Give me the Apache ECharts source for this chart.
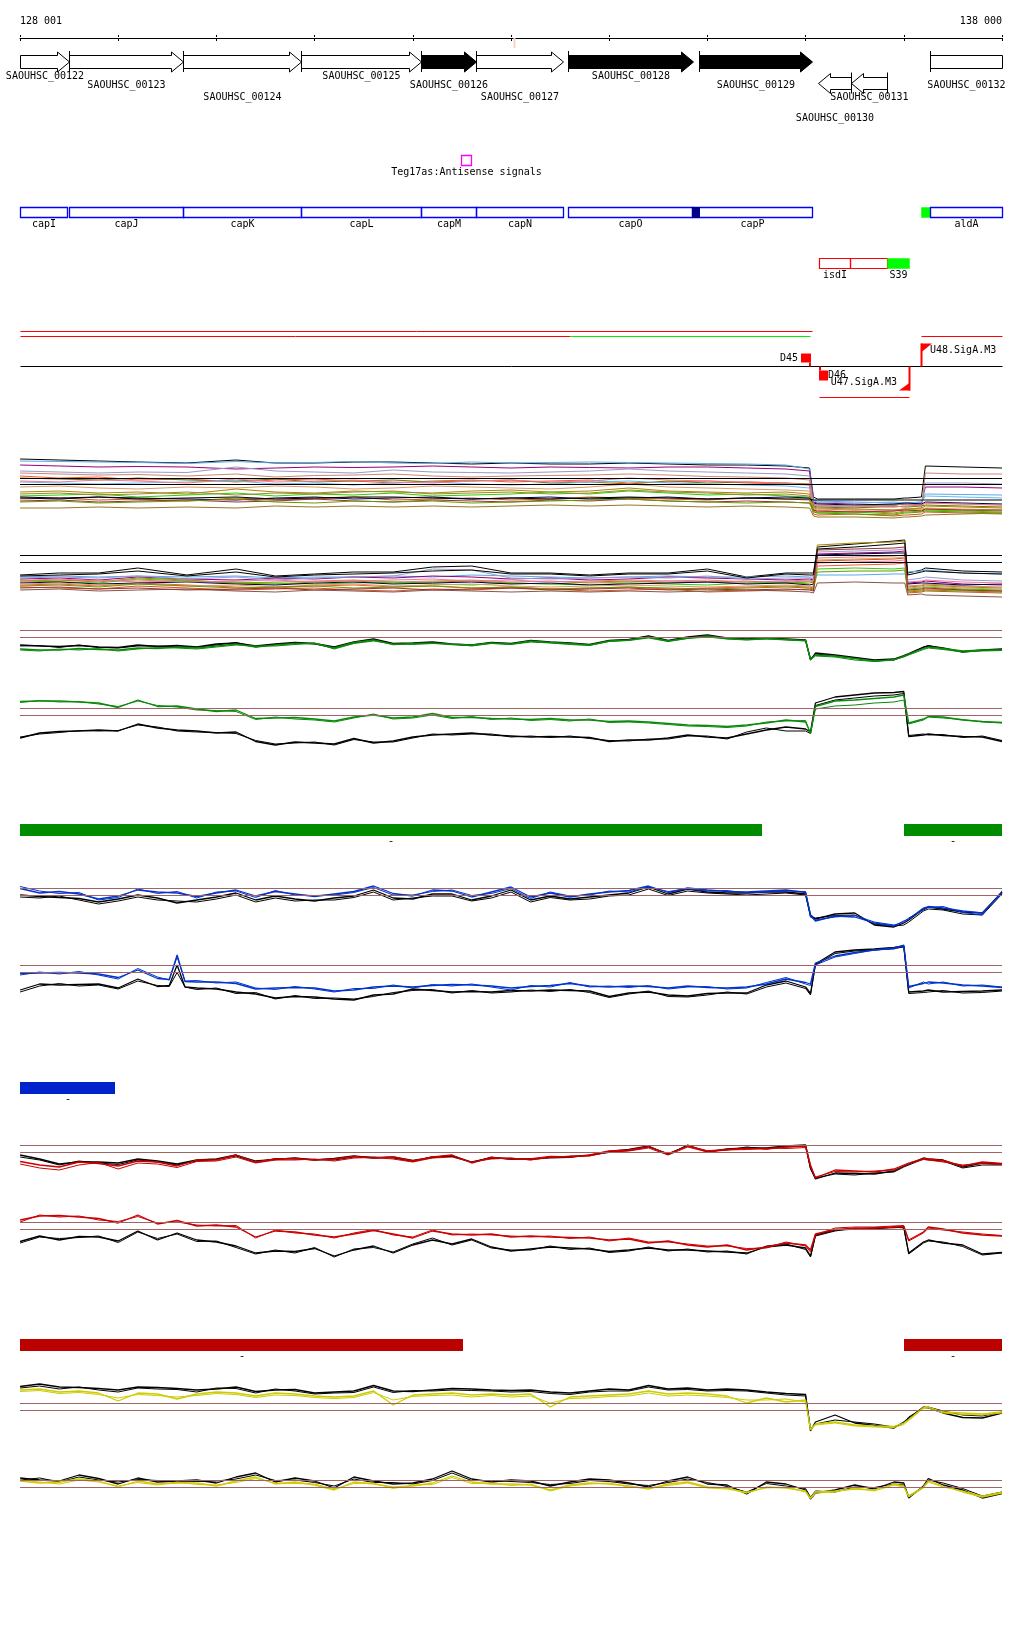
<!DOCTYPE html>
<html><head><meta charset="utf-8">
<script src="https://cdn.jsdelivr.net/npm/echarts/dist/echarts.min.js"></script>
<style>html,body{margin:0;padding:0;background:#fff}#c{width:1024px;height:1640px}</style>
</head><body><div id="c"></div><script>
// ---------------- DATA ----------------
const WIN0 = 128001, WIN1 = 138000;
const rulerLabels = ['128 001', '138 000'];
const siteMarks = [133027];

const geneName   = ['SAOUHSC_00122','SAOUHSC_00123','SAOUHSC_00124','SAOUHSC_00125','SAOUHSC_00126','SAOUHSC_00127','SAOUHSC_00128','SAOUHSC_00129','SAOUHSC_00130','SAOUHSC_00131','SAOUHSC_00132'];
const geneStart  = [127600,128495,129656,130857,132079,132639,133576,134910,136122,136458,137262];
const geneEnd    = [128495,129656,130857,132079,132639,133525,134849,136061,136458,136834,138600];
const geneStrand = ['+','+','+','+','+','+','+','+','-','-','+'];
const geneClass  = ['other','other','other','other','hit','other','hit','hit','other','other','other'];
const geneLane   = [0,1,2,0,1,2,0,1,3,2,1];

const featName  = ['capI','capJ','capK','capL','capM','capN','capO','capP','','','aldA','isdI','','S39','Teg17as:Antisense signals'];
const featStart = [127600,128495,129656,130857,132079,132639,133576,134839,134839,137180,137262,136132,136448,136834,132487];
const featEnd   = [128481,129656,130857,132079,132639,133525,134839,136061,134910,137262,138600,136448,136834,137048,132589];
const featKind  = ['cds','cds','cds','cds','cds','cds','cds','cds','site','srna','cds','reg','reg','srna','asrna'];
const featTrack = [0,0,0,0,0,0,0,0,0,0,0,1,1,1,2];

const segStart = [128001,128001,133597,128001,137180,136132];
const segEnd   = [136061,133597,136040,138000,138000,137048];
const segRow   = [0,1,1,2,1,3];
const segClass = ['tx','tx','cov','base','tx','tx'];

const markName = ['D45','D46','U47.SigA.M3','U48.SigA.M3'];
const markPos  = [136055,136132,137048,137180];
const markType = ['D+','D-','U-','U+'];

const barStart = [128001,137007,128001,128001,137007];
const barEnd   = [135552,138000,128963,132507,138000];
const barGroup = [0,0,1,2,2];
const barStrand = ['-','-','-','-','-'];

const posD = [128001,128200,128400,128600,128800,129000,129200,129400,129600,129800,
130000,130200,130400,130600,130800,131000,131200,131400,131600,131800,
132000,132200,132400,132600,132800,133000,133200,133400,133600,133800,
134000,134200,134400,134600,134800,135000,135200,135400,135600,135800,
136000,136050,136100,136300,136500,136700,136900,137000,137050,137200,137250,137400,137600,137800,138000];
const posB2 = [128001,128200,128400,128600,128800,129000,129200,129400,129520,129600,129680,129800,
130000,130200,130400,130600,130800,131000,131200,131400,131600,131800,
132000,132200,132400,132600,132800,133000,133200,133400,133600,133800,
134000,134200,134400,134600,134800,135000,135200,135400,135600,135800,
136000,136050,136100,136300,136500,136700,136900,137000,137050,137200,137250,137400,137600,137800,138000];

const g1Black = [6.0,5.8,5.7,5.9,5.6,5.5,6.0,5.7,5.9,5.6,6.2,6.4,5.8,6.2,6.5,6.3,5.6,6.6,7.2,6.3,6.4,6.6,6.2,6.0,6.5,6.3,6.9,6.6,6.4,6.1,6.9,7.1,7.8,6.9,7.6,8.0,7.4,7.2,7.4,7.2,7.0,3.0,4.4,4.0,3.5,3.0,3.2,3.9,4.3,5.6,5.8,5.4,4.6,5.0,5.2];
const g1Black2 = [5.8,5.9,5.5,6.0,5.5,5.4,5.8,5.8,5.7,5.5,6.0,6.5,5.6,6.1,6.4,6.2,5.4,6.4,7.0,6.2,6.3,6.5,6.1,5.9,6.4,6.2,6.7,6.5,6.3,6.0,6.8,7.0,7.6,6.8,7.5,7.9,7.3,7.1,7.3,7.1,6.9,3.2,4.2,3.8,3.4,2.8,3.0,3.7,4.1,5.5,5.9,5.3,4.7,4.9,5.1];
const g1Green = [5.2,5.0,5.0,5.3,5.1,5.0,5.4,5.3,5.6,5.4,5.8,6.2,5.6,6.0,6.3,6.3,5.4,6.5,7.0,6.1,6.3,6.4,6.1,6.0,6.4,6.2,6.8,6.5,6.3,6.0,6.8,7.0,7.6,6.8,7.4,7.8,7.3,7.1,7.3,7.1,6.9,3.2,4.0,3.8,3.3,2.8,3.0,3.8,4.2,5.3,5.6,5.3,4.8,5.0,5.0];
const g1Green2 = [5.0,4.8,5.2,5.0,5.3,4.8,5.2,5.5,5.4,5.2,5.6,6.0,5.8,5.8,6.1,6.4,5.2,6.3,6.8,6.2,6.1,6.3,6.2,5.8,6.3,6.1,6.6,6.4,6.1,5.9,6.7,6.9,7.4,6.7,7.3,7.6,7.2,7.0,7.2,7.0,6.8,3.0,3.8,3.6,3.0,2.7,3.1,3.6,4.0,5.1,5.4,5.1,4.6,4.8,4.9];

const g2Black = [2.4,3.4,3.7,3.8,4.0,3.8,5.2,4.4,4.0,3.8,3.4,3.6,1.7,1.0,1.6,1.4,1.2,2.3,1.4,1.8,2.6,3.0,3.2,3.4,3.0,2.8,2.6,2.7,2.6,2.5,1.7,2.0,2.0,2.4,3.0,2.6,2.4,3.2,4.0,4.6,4.2,3.6,9.4,10.6,11.0,11.4,11.5,11.7,2.7,3.0,3.2,2.9,2.7,2.6,1.7];
const g2Black2 = [2.6,3.2,3.5,3.9,3.8,3.9,5.0,4.6,3.8,3.6,3.5,3.3,1.9,1.2,1.4,1.6,1.0,2.1,1.6,1.6,2.4,3.2,3.0,3.2,3.2,2.6,2.8,2.5,2.8,2.3,1.9,1.8,2.2,2.2,2.8,2.8,2.2,3.6,4.4,3.8,3.8,3.3,8.9,10.0,10.4,10.8,11.0,11.3,2.9,3.2,3.0,3.1,2.5,2.8,1.9];
const g2Green = [9.7,9.8,9.8,9.6,9.4,8.5,10.0,8.7,8.8,8.2,7.7,8.0,6.3,6.4,6.5,6.2,5.8,6.6,7.0,6.4,6.6,7.3,6.5,6.5,6.3,6.2,6.1,6.3,6.0,6.0,5.7,5.8,5.6,5.3,5.0,4.9,4.7,5.0,5.4,6.0,5.6,3.4,8.7,9.8,10.0,10.3,10.6,11.0,5.4,6.2,6.7,6.6,6.0,5.7,5.5];
const g2Green2 = [9.5,9.9,9.6,9.7,9.2,8.7,9.8,8.9,8.6,8.0,7.9,7.7,6.1,6.6,6.2,6.0,5.6,6.4,7.2,6.2,6.4,7.0,6.3,6.7,6.1,6.4,5.9,6.1,5.8,6.2,5.5,5.6,5.4,5.1,4.8,4.7,4.5,4.8,5.6,5.8,5.9,3.2,8.2,8.8,9.0,9.4,9.6,10.0,5.2,6.0,6.6,6.4,6.1,5.6,5.4];

const b1Black = [8.0,7.7,7.5,7.3,6.6,7.2,8.0,7.4,6.4,7.0,7.6,8.4,7.0,7.8,7.2,6.8,7.4,7.8,9.0,7.4,7.2,8.2,8.2,7.0,7.8,9.0,7.0,7.8,7.2,7.6,8.0,8.4,9.6,8.2,9.2,8.6,8.4,8.4,8.6,8.6,8.2,4.0,3.2,4.2,4.4,2.0,1.6,2.4,3.0,5.2,5.6,5.2,4.6,4.4,8.6];
const b1Black2 = [7.6,7.4,7.8,7.0,6.2,6.8,7.6,7.0,6.8,6.6,7.2,8.0,6.6,7.4,6.8,7.0,7.0,7.5,8.6,7.0,7.4,7.8,7.8,6.8,7.4,8.6,6.6,7.5,7.0,7.2,7.8,8.0,9.2,7.9,8.8,8.4,8.2,8.0,8.2,8.4,8.0,3.6,3.4,3.9,4.0,2.2,1.8,2.0,2.6,4.8,5.2,5.0,4.2,4.0,8.2];
const b1Blue = [9.3,8.4,8.7,8.2,7.2,7.8,9.0,8.6,8.4,7.7,8.4,9.0,7.8,8.7,8.2,7.7,8.2,8.7,9.8,8.3,7.8,9.0,8.8,7.6,8.6,9.6,7.6,8.4,7.6,8.2,8.6,8.9,9.8,8.5,9.4,9.0,8.7,8.6,8.8,9.0,8.5,4.0,2.8,3.8,3.6,2.4,1.8,2.8,3.2,5.4,5.7,5.4,4.8,4.4,8.4];
const b1Blue2 = [9.7,8.8,8.3,8.5,7.0,7.5,9.2,8.3,8.7,7.4,8.6,8.8,7.5,8.9,8.0,7.9,8.0,8.5,9.5,8.0,8.0,8.7,9.0,7.9,8.3,9.3,7.3,8.6,7.8,8.0,8.8,8.6,9.6,8.7,9.2,8.8,8.9,8.4,8.6,8.8,8.7,3.6,3.0,3.6,3.9,2.6,2.0,2.5,3.4,5.0,5.5,5.7,4.5,4.0,8.8];

const b2Black = [3.0,4.2,4.0,4.1,4.2,3.4,5.2,3.7,3.9,8.0,3.6,3.4,3.2,2.6,2.2,1.4,1.7,1.6,1.2,1.0,2.0,2.2,3.2,2.9,2.6,2.7,2.6,2.9,2.8,3.0,2.9,2.8,1.7,2.4,2.6,2.0,1.8,2.3,2.4,2.4,4.0,4.8,3.6,2.3,8.2,10.6,11.0,11.2,11.5,11.8,2.6,2.8,3.0,2.6,2.7,2.8,3.0];
const b2Black2 = [2.6,3.8,4.3,3.8,4.0,3.2,4.8,3.9,3.7,6.5,3.6,3.1,3.4,2.3,2.5,1.2,1.9,1.3,1.4,1.2,1.7,2.5,2.9,3.1,2.4,2.9,2.4,2.6,3.0,2.7,3.1,2.5,1.5,2.2,2.8,1.7,1.6,2.0,2.6,2.2,3.6,4.4,3.3,2.0,8.0,10.3,10.8,11.0,11.3,11.6,2.3,2.5,2.6,2.9,2.4,2.5,2.8];
const b2Blue = [6.3,6.4,6.5,6.4,6.2,5.5,7.0,5.3,5.1,10.0,4.7,4.6,4.6,4.3,3.2,3.4,3.5,3.4,2.8,3.0,3.6,3.8,3.6,3.9,4.1,4.0,3.8,3.4,3.7,3.9,4.3,3.8,3.6,3.8,3.7,3.4,3.8,3.5,3.4,3.6,4.2,5.2,4.5,4.2,8.4,9.8,10.5,11.0,11.4,12.0,3.7,4.3,4.6,4.4,4.0,3.8,3.5];
const b2Blue2 = [6.0,6.6,6.2,6.7,6.0,5.2,7.3,5.6,5.0,9.6,4.8,4.9,4.4,4.6,3.4,3.1,3.7,3.2,2.6,3.3,3.3,4.0,3.4,4.1,3.8,4.2,3.6,3.0,3.9,3.6,4.5,3.6,3.8,3.5,3.9,3.2,3.6,3.7,3.2,3.4,4.5,5.5,4.2,3.9,8.0,9.6,10.3,11.0,11.2,11.8,3.4,4.6,4.2,4.6,3.8,4.0,3.6];

const r1Black = [7.0,6.2,5.2,5.6,5.6,5.4,6.2,5.8,5.2,6.0,6.2,7.0,5.8,6.1,6.4,6.0,6.3,6.8,6.4,6.6,5.9,6.5,6.9,5.6,6.4,6.3,6.1,6.6,6.7,6.9,7.7,8.1,8.8,7.1,9.0,7.6,8.2,8.4,8.4,8.8,9.0,4.4,2.2,3.4,3.3,3.2,3.8,4.8,5.2,6.4,6.2,6.0,4.6,5.4,5.2];
const r1Black2 = [6.6,6.0,5.0,5.8,5.4,5.1,6.0,5.6,5.0,5.8,6.1,6.8,5.5,6.3,6.2,6.1,6.0,6.6,6.6,6.4,5.7,6.7,6.7,5.5,6.6,6.1,6.3,6.4,6.5,7.0,7.5,7.9,8.6,7.3,8.8,7.8,8.0,8.6,8.2,8.6,8.8,4.2,2.4,3.2,3.0,3.4,3.6,4.6,5.0,6.2,6.0,5.8,4.4,5.0,5.0];
const r1Red = [5.7,5.0,4.6,5.6,5.3,4.8,5.8,5.6,4.8,6.0,6.0,7.0,5.6,6.2,6.3,6.0,6.2,6.7,6.4,6.6,5.8,6.6,7.0,5.4,6.5,6.2,6.2,6.7,6.6,7.0,7.8,8.0,8.7,7.2,8.8,7.8,8.1,8.3,8.2,8.6,8.8,5.0,2.4,4.0,3.8,3.6,4.2,5.0,5.4,6.3,6.2,5.9,4.8,5.6,5.3];
const r1Red2 = [5.2,4.4,4.0,5.0,5.5,4.2,5.4,5.2,4.5,5.7,5.8,6.6,5.4,6.0,6.0,6.2,5.8,6.4,6.5,6.2,5.6,6.4,6.6,5.6,6.2,6.4,6.0,6.5,6.8,6.8,7.6,7.8,8.4,7.0,8.6,7.6,8.0,8.1,8.4,8.3,8.5,4.6,2.6,3.7,3.6,3.8,4.0,4.8,5.2,6.1,6.0,5.6,5.0,5.3,5.1];

const r2Black = [4.7,5.8,5.0,5.7,5.6,4.8,6.8,5.0,6.4,5.0,4.6,3.8,2.4,2.8,2.7,3.3,1.8,3.0,3.8,2.4,4.0,5.0,4.2,5.2,3.6,2.8,3.2,3.6,3.4,3.2,2.7,3.0,3.4,3.0,3.0,2.8,2.6,2.4,3.6,4.0,3.4,1.8,6.0,7.0,7.2,7.4,7.5,7.6,2.4,4.6,5.0,4.4,4.0,2.2,2.5];
const r2Black2 = [4.4,5.6,5.3,5.5,5.8,4.5,6.6,5.3,6.2,4.7,4.8,3.5,2.2,3.0,2.4,3.5,1.6,3.2,3.5,2.6,4.2,5.4,4.0,5.0,3.4,3.0,3.0,3.8,3.1,3.4,2.5,2.8,3.6,2.8,3.2,2.6,2.8,2.2,3.8,4.2,3.1,1.6,5.8,6.8,7.4,7.2,7.6,7.4,2.2,4.4,4.8,4.6,3.7,2.0,2.4];
const r2Red = [9.0,9.8,9.9,9.6,9.3,8.4,10.0,8.2,8.9,7.8,8.0,7.6,5.6,6.8,6.6,6.0,5.6,6.2,6.9,6.2,5.4,6.8,6.2,6.0,6.2,5.6,5.8,5.6,5.5,5.4,5.0,5.2,4.4,4.8,4.0,3.6,4.0,3.0,3.6,4.4,4.0,3.0,6.2,7.1,7.3,7.4,7.6,7.7,5.0,6.6,7.6,7.2,6.4,6.0,5.8];
const r2Red2 = [8.6,10.0,9.6,9.8,9.0,8.7,9.7,8.4,8.6,8.0,7.8,7.9,5.4,7.0,6.4,6.2,5.4,6.4,7.1,6.0,5.6,7.0,6.0,6.2,6.0,5.8,5.6,5.8,5.3,5.6,4.8,5.4,4.6,4.6,4.2,3.8,3.8,3.3,3.4,4.6,3.8,2.6,6.0,7.4,7.6,7.6,7.8,7.9,4.8,6.4,7.4,7.0,6.6,6.2,5.9];

const y1Black = [10.7,11.2,10.6,10.5,10.3,10.0,10.6,10.5,10.3,10.0,10.2,10.6,9.7,10.0,10.1,9.4,9.6,9.8,10.9,9.8,9.7,10.0,10.3,10.2,10.0,9.9,10.0,9.6,9.4,9.8,10.2,10.0,10.9,10.2,10.4,10.0,10.2,10.0,9.6,9.3,9.1,1.8,3.6,5.0,3.4,2.9,2.4,3.6,4.3,6.6,6.4,5.4,4.5,4.4,5.4];
const y1Black2 = [10.4,10.8,10.2,10.6,10.0,9.6,10.4,10.2,10.1,9.6,10.4,10.3,9.4,10.2,9.8,9.2,9.4,9.5,10.6,9.5,9.9,9.8,10.0,9.9,9.8,9.6,9.7,9.3,9.1,9.6,9.8,9.8,10.6,10.0,10.1,9.8,9.9,9.8,9.4,9.0,8.8,2.2,3.2,4.0,3.6,3.2,2.6,3.4,4.6,6.4,6.6,5.8,5.0,4.8,5.6];
const y1Yellow = [10.0,10.2,9.6,9.8,9.4,7.8,9.4,9.2,8.2,9.2,9.6,9.4,8.8,9.4,9.2,8.8,8.6,8.8,9.8,7.0,9.0,9.2,9.4,9.0,9.2,9.0,9.2,6.6,8.6,8.8,9.0,9.2,9.8,9.2,9.4,9.2,8.8,7.4,8.4,7.6,8.0,2.0,3.2,3.6,3.0,2.8,2.7,3.4,4.1,6.5,6.6,5.6,5.4,5.2,5.6];
const y1Yellow2 = [9.7,9.9,9.3,9.5,9.1,8.4,9.1,8.9,8.6,8.9,9.3,9.1,8.5,9.0,8.9,8.5,8.3,8.5,9.5,8.0,8.7,8.9,9.0,8.6,8.9,8.6,8.8,7.4,8.3,8.4,8.7,8.8,9.4,8.8,9.0,8.8,8.5,8.0,8.0,8.2,7.6,2.3,3.0,3.4,2.8,2.6,2.5,3.1,3.9,6.3,6.4,5.4,5.1,5.0,5.4];

const y2Black = [7.4,7.0,6.8,8.0,7.3,6.2,7.4,6.6,6.8,7.0,6.4,7.6,8.4,6.6,7.4,6.8,5.4,7.6,6.8,6.2,6.4,7.2,8.8,7.2,6.6,7.0,6.8,5.8,6.6,7.2,7.0,6.4,5.6,6.8,7.6,6.2,6.0,4.2,6.6,6.2,5.0,3.2,4.4,5.0,6.0,5.2,6.6,6.4,3.4,5.8,7.3,6.0,5.0,3.4,4.3];
const y2Black2 = [7.0,7.4,6.6,7.6,7.0,6.6,7.1,6.9,6.6,6.7,6.8,7.2,8.0,6.9,7.0,6.5,5.8,7.2,6.5,6.5,6.2,6.9,8.4,6.9,6.9,6.7,6.5,6.1,6.3,6.9,6.7,6.2,5.9,6.5,7.2,6.5,5.7,4.6,6.3,5.8,5.3,3.6,4.8,4.6,5.6,5.5,6.2,6.0,3.8,5.5,7.0,6.4,5.3,3.8,4.6];
const y2Yellow = [6.8,6.4,6.6,7.2,6.8,5.6,6.8,6.2,6.4,6.4,5.8,6.8,7.6,6.2,6.6,6.0,5.0,6.6,6.2,5.6,5.8,6.4,7.8,6.6,6.2,6.2,6.0,5.0,6.0,6.4,6.2,5.8,5.2,6.2,6.6,5.6,5.4,4.4,5.6,5.4,4.8,3.4,4.6,4.8,5.2,5.0,6.2,5.8,3.8,5.6,6.8,5.8,4.6,3.6,4.4];
const y2Yellow2 = [7.0,6.6,6.2,7.0,6.6,5.8,6.5,6.0,6.6,6.1,6.0,6.5,7.3,6.4,6.3,6.2,5.2,6.3,6.4,5.3,6.0,6.1,7.5,6.3,6.4,5.9,6.2,4.8,5.8,6.2,6.4,5.6,5.4,5.9,6.4,5.4,5.2,4.6,5.4,5.6,4.6,3.2,4.4,4.6,5.4,4.8,6.0,5.6,3.6,5.4,6.6,5.6,4.8,3.8,4.6];

const posM = [128001,128400,128800,129200,129700,130200,130600,131000,131400,131800,132200,132600,133000,133400,133800,134200,134600,135000,135400,135800,136040,136080,136120,136500,136900,137010,137040,137180,137220,137600,138000];

const multiA = [
[13.2,13.0,12.8,12.6,12.4,13.0,12.4,12.4,12.6,12.6,12.4,12.2,12.4,12.2,12.2,12.4,12.2,12.0,12.0,11.8,11.4,5.6,5.2,5.2,5.2,5.4,5.4,5.6,11.8,11.6,11.4],
[12.8,12.7,12.6,12.5,12.3,12.7,12.4,12.5,12.7,12.4,12.3,12.6,12.4,12.5,12.6,12.5,12.4,12.3,12.2,12.0,11.2,5.0,4.8,4.6,4.4,4.4,4.4,4.6,6.2,6.1,6.0],
[12.0,11.8,11.6,11.7,11.6,11.2,11.4,11.6,11.5,11.6,11.8,11.6,11.4,11.6,11.5,11.4,11.6,11.6,11.4,11.2,10.8,4.6,4.4,4.2,4.0,4.2,4.2,4.4,7.6,7.6,7.4],
[10.8,10.6,10.4,10.6,10.5,11.6,10.8,10.6,10.4,11.0,10.6,10.5,10.4,10.6,10.8,11.2,10.8,10.6,10.4,10.2,9.8,4.0,3.8,3.6,3.6,3.8,3.8,4.0,8.4,8.4,8.2],
[10.4,10.2,10.0,10.1,9.8,10.2,9.6,9.9,10.0,10.2,9.8,9.6,9.8,9.9,10.0,10.2,10.0,9.7,9.6,9.4,9.0,3.4,3.2,3.0,3.0,3.2,3.2,3.4,10.4,10.2,10.2],
[9.8,9.4,9.6,9.0,9.2,8.6,9.0,9.2,8.8,8.4,8.8,9.0,8.6,8.8,9.0,8.4,8.6,8.8,8.4,8.2,8.0,3.0,2.6,2.8,2.4,2.8,2.8,3.0,3.2,3.0,2.8],
[9.4,9.2,9.0,9.4,9.0,8.8,9.2,8.6,8.8,9.0,8.6,8.8,9.0,8.4,8.6,8.2,8.8,8.4,8.6,8.4,8.2,3.8,3.6,3.4,3.8,3.6,3.6,3.8,4.0,3.8,3.6],
[8.6,8.4,8.2,8.4,8.6,8.8,8.2,8.4,8.0,8.4,8.6,8.2,8.0,8.2,8.6,8.8,8.4,8.2,8.0,7.8,7.4,4.8,4.6,4.4,4.6,4.4,4.4,4.6,5.8,5.6,5.4],
[7.6,7.8,7.4,7.2,7.6,7.4,7.8,7.6,7.2,7.4,7.8,7.6,7.4,7.2,7.6,8.2,7.6,7.4,7.2,7.0,6.8,3.2,3.0,2.6,2.8,3.0,3.0,3.2,3.4,3.2,3.0],
[6.6,6.8,6.4,6.6,6.2,7.2,6.6,6.4,6.8,6.6,6.4,6.8,7.0,6.6,6.8,7.4,6.8,6.6,6.4,6.6,6.2,3.6,3.4,3.2,3.0,3.2,3.2,3.4,3.8,3.6,3.4],
[5.8,6.0,6.2,5.6,6.0,6.4,5.8,6.2,6.0,6.4,5.8,6.0,6.2,6.6,6.2,6.8,6.4,6.0,6.2,5.8,5.6,2.8,2.4,2.6,2.2,2.6,2.6,2.8,3.0,2.8,2.6],
[6.2,6.4,6.0,6.2,6.6,6.0,6.4,6.2,6.6,6.8,6.2,6.4,6.6,6.2,6.4,7.0,6.6,6.4,6.0,6.2,5.8,4.2,4.0,3.8,4.0,4.2,4.2,4.0,4.4,4.2,4.0],
[5.2,5.4,5.0,5.2,4.8,5.4,5.0,5.2,5.6,5.0,5.2,5.4,5.0,5.2,5.6,5.4,5.2,5.0,5.4,5.2,5.0,2.2,2.0,2.2,1.8,2.0,2.0,2.2,2.6,2.4,2.2],
[5.4,5.2,5.6,5.4,5.2,5.0,5.4,5.6,5.2,5.4,5.6,5.2,5.4,5.6,5.2,5.4,5.6,5.2,5.4,5.6,5.4,4.4,4.2,4.0,4.2,4.4,4.4,4.2,4.6,4.4,4.2],
[4.8,5.0,4.6,4.8,5.0,4.6,4.8,5.2,4.8,4.6,5.0,4.8,4.6,5.0,4.8,5.2,4.8,4.6,4.8,4.6,4.4,3.0,2.8,2.6,2.8,3.0,3.0,2.8,3.2,3.0,3.0],
[3.4,3.4,3.6,3.4,3.6,3.4,3.8,3.6,3.8,3.6,3.8,3.6,3.8,4.0,3.8,4.0,3.8,3.6,3.8,3.6,3.4,1.8,1.6,1.6,1.4,1.6,1.6,1.8,2.0,2.2,2.4],
[8.8,8.6,9.0,8.8,8.4,9.2,8.6,8.8,9.0,8.6,8.4,8.8,9.0,8.6,8.8,9.4,9.0,8.8,8.6,8.4,8.0,4.2,4.0,3.8,3.6,3.8,3.8,4.0,4.4,4.2,4.0],
[4.6,4.8,4.4,4.6,4.8,5.2,4.6,4.4,4.8,4.6,4.8,4.4,4.6,4.8,5.0,5.2,4.8,4.6,4.4,4.6,4.4,2.6,2.4,2.2,2.0,2.4,2.4,2.6,2.8,2.6,2.4],
[5.6,5.4,5.6,5.2,5.4,5.6,5.2,5.4,5.6,5.6,5.4,5.2,5.4,5.2,5.4,5.6,5.4,5.2,5.4,5.2,5.2,5.0,5.0,5.0,5.0,5.0,5.0,5.0,5.0,5.0,5.0]
];
const multiB = [
[6.0,6.4,6.4,7.4,6.0,7.2,5.8,6.2,6.6,6.6,7.6,7.8,6.4,6.4,6.0,6.4,6.4,7.2,5.6,6.4,6.4,6.4,11.6,12.2,12.8,13.0,6.4,7.0,7.4,6.8,6.6],
[5.6,5.8,5.6,5.8,5.6,5.8,5.4,5.6,5.6,5.8,5.6,6.0,5.8,5.6,5.4,5.6,5.8,5.6,5.6,5.8,5.6,5.6,6.0,6.0,6.2,6.2,6.6,6.8,7.0,6.4,6.2],
[5.2,5.4,5.0,5.6,5.2,5.0,5.4,5.2,5.6,5.4,5.8,5.6,5.2,5.4,5.0,5.2,5.6,5.4,5.2,5.0,5.2,5.0,10.2,10.4,10.6,10.8,4.4,4.6,4.8,4.2,4.0],
[5.4,5.6,5.4,5.8,5.2,5.6,5.0,5.4,5.6,5.8,7.2,7.0,5.4,5.2,5.4,5.6,5.4,5.8,5.2,5.4,5.4,5.2,10.6,10.8,11.0,11.2,5.0,5.4,5.6,5.0,4.8],
[4.6,4.8,5.0,4.6,4.8,4.4,4.6,4.8,5.0,4.6,4.8,5.0,4.6,4.8,4.4,4.6,4.8,4.6,4.4,4.6,4.8,4.6,9.4,9.6,9.8,10.0,3.8,4.0,4.2,3.8,3.6],
[4.0,4.2,3.8,4.4,4.0,3.6,3.4,3.8,4.0,3.6,3.8,3.4,3.6,3.2,3.4,3.6,3.2,3.4,3.6,3.8,3.6,3.4,7.8,8.0,8.2,8.4,2.8,3.0,3.2,3.0,2.8],
[4.8,5.0,4.6,5.4,5.0,4.4,4.2,4.6,4.8,4.4,4.6,4.8,4.4,4.2,4.6,4.8,4.4,4.6,4.8,4.4,4.6,4.4,12.0,12.4,12.6,12.8,3.6,3.8,4.0,3.6,3.4],
[5.0,4.6,4.4,5.2,4.8,4.6,4.4,4.2,4.4,4.6,4.2,4.0,4.4,4.2,4.0,4.4,4.2,4.0,4.4,4.6,4.2,4.0,7.2,7.4,7.2,7.4,3.2,3.4,3.6,3.2,3.0],
[3.6,3.4,3.2,3.8,3.4,3.0,3.2,3.4,3.0,2.8,3.2,3.0,3.4,3.2,2.8,3.0,3.2,2.6,2.8,3.0,3.2,3.0,8.8,9.0,9.2,9.4,2.4,2.6,2.8,2.6,2.4],
[4.4,4.6,4.2,4.4,4.6,4.2,4.0,4.4,4.6,4.2,4.4,4.6,4.2,4.4,4.0,4.2,4.4,4.6,4.2,4.4,4.0,4.2,10.0,10.2,10.4,10.4,4.2,4.4,4.4,4.0,4.2],
[4.2,4.4,4.0,4.2,3.8,4.0,3.6,4.0,4.2,3.8,4.0,4.2,3.8,3.6,3.8,4.0,3.8,3.6,3.8,4.0,3.8,3.6,9.0,9.2,9.4,9.6,3.4,3.6,3.8,3.4,3.2],
[3.0,3.2,2.8,3.0,3.2,2.8,2.6,3.0,2.8,2.6,3.0,2.8,2.6,2.8,2.6,2.8,2.6,2.8,3.0,2.8,2.6,2.4,4.4,4.6,4.4,4.4,2.0,2.2,2.0,1.8,1.6],
[3.8,4.0,3.6,4.2,3.8,3.4,3.6,3.8,3.4,3.6,3.8,3.4,3.6,3.2,3.4,3.6,3.4,3.2,3.4,3.6,3.4,3.2,6.6,6.8,6.8,7.0,2.6,2.8,3.0,2.8,2.6],
[4.9,5.2,4.8,5.0,4.6,4.8,5.0,4.6,4.8,5.0,5.2,4.8,5.0,4.6,4.8,5.0,4.8,5.0,4.6,4.8,5.0,4.8,8.4,8.6,8.8,9.0,4.6,4.8,5.0,4.6,4.4],
[3.4,3.6,3.2,3.4,3.0,3.2,3.4,3.0,3.2,3.4,3.0,3.2,3.4,3.0,3.2,3.4,3.0,3.2,3.0,3.2,3.0,2.8,11.0,11.2,11.4,11.6,3.0,3.2,3.4,3.0,2.8],
[5.8,6.0,6.2,6.8,5.8,6.6,5.6,6.0,6.2,6.4,6.8,7.0,6.2,6.2,5.8,6.2,6.2,6.8,5.4,6.2,6.0,6.0,11.2,11.6,12.2,12.4,6.0,6.6,6.8,6.4,6.2]
];

// ---------------- STYLE / LAYOUT ----------------
const FONT = '10px "DejaVu Sans Mono", monospace';
const LEFT = 20, WIDTH = 982;
const GENE_LAYOUT = { fwd: {top: 55.5, bot: 68.5, head: 3.5}, rev: {top: 77.5, bot: 89.5, head: 4} };
const LABEL_Y = [76.5, 85.5, 97.5, 118.5];
const FEAT_ROW = [{y: 207.5, h: 10}, {y: 258.5, h: 10}, {y: 155.5, h: 10}];
const FEAT_STYLE = {
  cds: {fill: 'rgba(0,0,0,0)', stroke: '#0000ff', lw: 1.3},
  site: {fill: '#000088', stroke: '#000088', lw: 1},
  reg: {fill: 'rgba(0,0,0,0)', stroke: '#ff0000', lw: 1.2},
  srna: {fill: '#00ff00', stroke: '#00ff00', lw: 0.5},
  asrna: {fill: 'rgba(0,0,0,0)', stroke: '#ff00ff', lw: 1.3}
};
const SEG_ROW_Y = [331.5, 336.5, 366.5, 397.5];
const SEG_COLOR = {tx: '#ff0000', cov: '#00ee00', base: '#000000'};
const BAR_Y = [824, 1082, 1339];
const BAR_COLOR = ['#008c00', '#0022cc', '#bb0000'];
const BROWN = '#a06464';
const colorsA = ['#000000','#55aaee','#990077','#9999cc','#cc8877','#ff5533','#777700','#66bbee','#dd9966','#aa8800','#33cc00','#998833','#cc5522','#000044','#993333','#997722','#ee7799','#669900','#000000'];
const colorsB = ['#000000','#55aaee','#990077','#9999cc','#cc8877','#ff5533','#aa8800','#33cc00','#cc5522','#000044','#dd9966','#885544','#669900','#ee7799','#993333','#000000'];

const panels = [
  {top: 450, height: 75, max: 15, thr: [9.4, 8.2], thrColor: '#000', pos: posM, lines: multiA.map((v, k) => ({v, c: colorsA[k], w: 1}))},
  {top: 530, height: 75, max: 15, thr: [10, 8.6], thrColor: '#000', pos: posM, lines: multiB.map((v, k) => ({v, c: colorsB[k], w: 1}))},
  {top: 625, height: 50, max: 10, thr: [8.9, 7.5], thrColor: BROWN, pos: posD, lines: [{v: g1Black, c: '#000', w: 1.3}, {v: g1Black2, c: '#000', w: 1}, {v: g1Green, c: '#0a8a0a', w: 1.3}, {v: g1Green2, c: '#0a8a0a', w: 1}]},
  {top: 685, height: 65, max: 13, thr: [8.4, 7.0], thrColor: BROWN, pos: posD, lines: [{v: g2Black, c: '#000', w: 1.3}, {v: g2Black2, c: '#000', w: 1}, {v: g2Green, c: '#0a8a0a', w: 1.3}, {v: g2Green2, c: '#0a8a0a', w: 1}]},
  {top: 870, height: 65, max: 13, thr: [9.4, 8.0], thrColor: BROWN, pos: posD, lines: [{v: b1Black, c: '#000', w: 1.3}, {v: b1Black2, c: '#000', w: 1}, {v: b1Blue, c: '#0033cc', w: 1.3}, {v: b1Blue2, c: '#0033cc', w: 1}]},
  {top: 940, height: 65, max: 13, thr: [8.0, 6.6], thrColor: BROWN, pos: posB2, lines: [{v: b2Black, c: '#000', w: 1.3}, {v: b2Black2, c: '#000', w: 1}, {v: b2Blue, c: '#0033cc', w: 1.3}, {v: b2Blue2, c: '#0033cc', w: 1}]},
  {top: 1125, height: 65, max: 13, thr: [9.0, 7.6], thrColor: BROWN, pos: posD, lines: [{v: r1Black, c: '#000', w: 1.3}, {v: r1Black2, c: '#000', w: 1}, {v: r1Red, c: '#cc0000', w: 1.3}, {v: r1Red2, c: '#cc0000', w: 1}]},
  {top: 1200, height: 65, max: 13, thr: [8.6, 7.2], thrColor: BROWN, pos: posD, lines: [{v: r2Black, c: '#000', w: 1.3}, {v: r2Black2, c: '#000', w: 1}, {v: r2Red, c: '#cc0000', w: 1.3}, {v: r2Red2, c: '#cc0000', w: 1}]},
  {top: 1375, height: 65, max: 13, thr: [7.4, 6.0], thrColor: BROWN, pos: posD, lines: [{v: y1Black, c: '#000', w: 1.3}, {v: y1Black2, c: '#000', w: 1}, {v: y1Yellow, c: '#cccc00', w: 1.3}, {v: y1Yellow2, c: '#cccc00', w: 1}]},
  {top: 1450, height: 65, max: 13, thr: [7.0, 5.6], thrColor: BROWN, pos: posD, lines: [{v: y2Black, c: '#000', w: 1.3}, {v: y2Black2, c: '#000', w: 1}, {v: y2Yellow, c: '#cccc00', w: 1.3}, {v: y2Yellow2, c: '#cccc00', w: 1}]}
];

// ---------------- RENDER ----------------
function px(api, bp) { return Math.round(api.coord([bp, 0])[0]) + 0.5; }
function txt(text, x, y, align, font) {
  return {type: 'text', style: {text, x, y, font: font || FONT, fill: '#000', align: align || 'center', verticalAlign: 'middle', textAlign: align || 'center', textVerticalAlign: 'middle'}};
}

function renderGene(params, api) {
  const i = api.value(2);
  const fwd = geneStrand[i] === '+';
  const s = Math.max(geneStart[i], WIN0), e = Math.min(geneEnd[i], WIN1);
  const x0 = px(api, s), x1 = px(api, e);
  const L = GENE_LAYOUT[fwd ? 'fwd' : 'rev'];
  const top = L.top, bot = L.bot, mid = (top + bot) / 2, ht = top - L.head, hb = bot + L.head;
  const head = Math.min(12, x1 - x0);
  const headIn = fwd ? geneEnd[i] <= WIN1 : geneStart[i] >= WIN0;
  let pts;
  if (!headIn) pts = [[x0, top], [x1, top], [x1, bot], [x0, bot]];
  else if (fwd) pts = [[x0, top], [x1 - head, top], [x1 - head, ht], [x1, mid], [x1 - head, hb], [x1 - head, bot], [x0, bot]];
  else pts = [[x1, top], [x0 + head, top], [x0 + head, ht], [x0, mid], [x0 + head, hb], [x0 + head, bot], [x1, bot]];
  const dark = geneClass[i] === 'hit';
  const ch = [{type: 'polygon', shape: {points: pts}, style: {fill: dark ? '#000' : '#fff', stroke: '#000', lineWidth: 1}}];
  const five = fwd ? geneStart[i] : geneEnd[i];
  if (five > WIN0 && five < WIN1) {
    const xt = fwd ? x0 : x1;
    ch.push({type: 'line', shape: {x1: xt, y1: ht - 1, x2: xt, y2: hb}, style: {stroke: '#000', lineWidth: 1}});
  }
  ch.push(txt(geneName[i], (x0 + x1) / 2, LABEL_Y[geneLane[i]]));
  return {type: 'group', children: ch};
}

function renderFeat(params, api) {
  const i = api.value(2);
  const s = Math.max(featStart[i], WIN0), e = Math.min(featEnd[i], WIN1);
  const x0 = px(api, s), x1 = px(api, e);
  const row = FEAT_ROW[featTrack[i]];
  const st = FEAT_STYLE[featKind[i]];
  const ch = [{type: 'rect', shape: {x: x0, y: row.y, width: x1 - x0, height: row.h}, style: {fill: st.fill, stroke: st.stroke, lineWidth: st.lw}}];
  if (featName[i]) ch.push(txt(featName[i], (x0 + x1) / 2, row.y + 17));
  return {type: 'group', children: ch};
}

function renderSeg(params, api) {
  const i = api.value(2);
  const x0 = px(api, segStart[i]), x1 = px(api, segEnd[i]);
  const y = SEG_ROW_Y[segRow[i]];
  return {type: 'line', shape: {x1: x0, y1: y, x2: x1, y2: y}, style: {stroke: SEG_COLOR[segClass[i]], lineWidth: 1}};
}

function renderMark(params, api) {
  const i = api.value(2);
  const x = Math.round(api.coord([markPos[i], 0])[0]);
  const base = SEG_ROW_Y[2];
  const red = '#ff0000';
  const t = markType[i];
  const ch = [];
  if (t === 'D+') {
    ch.push({type: 'rect', shape: {x: x - 2, y: base - 4, width: 2, height: 4}, style: {fill: red}});
    ch.push({type: 'rect', shape: {x: x - 10, y: base - 13, width: 10, height: 9}, style: {fill: red}});
    ch.push(txt(markName[i], x - 13, base - 8, 'right'));
  } else if (t === 'D-') {
    ch.push({type: 'rect', shape: {x: x, y: base, width: 2, height: 4}, style: {fill: red}});
    ch.push({type: 'rect', shape: {x: x, y: base + 4, width: 9, height: 10}, style: {fill: red}});
    ch.push(txt(markName[i], x + 9, base + 9, 'left'));
  } else if (t === 'U-') {
    ch.push({type: 'line', shape: {x1: x + 0.5, y1: base, x2: x + 0.5, y2: base + 24}, style: {stroke: red, lineWidth: 2}});
    ch.push({type: 'polygon', shape: {points: [[x - 10, base + 24], [x + 1, base + 24], [x + 1, base + 16]]}, style: {fill: red}});
    ch.push(txt(markName[i], x - 12, base + 16, 'right'));
  } else {
    ch.push({type: 'line', shape: {x1: x + 0.5, y1: base, x2: x + 0.5, y2: base - 23}, style: {stroke: red, lineWidth: 2}});
    ch.push({type: 'polygon', shape: {points: [[x, base - 23], [x + 11, base - 23], [x, base - 14]]}, style: {fill: red}});
    ch.push(txt(markName[i], x + 9, base - 16, 'left'));
  }
  return {type: 'group', children: ch};
}

function renderBar(params, api) {
  const i = api.value(2);
  const x0 = Math.round(api.coord([barStart[i], 0])[0]), x1 = Math.round(api.coord([barEnd[i], 0])[0]);
  const y = BAR_Y[barGroup[i]];
  const cx = Math.round((x0 + x1) / 2);
  return {type: 'group', children: [
    {type: 'rect', shape: {x: x0, y: y, width: x1 - x0, height: 12}, style: {fill: BAR_COLOR[barGroup[i]]}},
    txt(barStrand[i], cx, y + 17, 'center', '11px "DejaVu Sans Mono", monospace')
  ]};
}

function renderSite(params, api) {
  const x = px(api, api.value(0));
  return {type: 'line', shape: {x1: x, y1: 38, x2: x, y2: 48}, style: {stroke: '#f7d3c6', lineWidth: 2}};
}

// ---------------- OPTION ----------------
const grid = [
  {left: LEFT, width: WIDTH, top: 0, height: 1640, containLabel: false},
  {left: LEFT, width: WIDTH, top: 37, height: 1, containLabel: false}
];
const xAxis = [
  {gridIndex: 0, type: 'value', min: 128000, max: 138000, show: false},
  {gridIndex: 1, type: 'value', min: 128000, max: 138000, interval: 1000, position: 'bottom',
   axisLine: {show: true, lineStyle: {color: '#000', width: 1}}, axisTick: {show: true, length: 3, lineStyle: {color: '#000', width: 1}},
   axisLabel: {show: false}, splitLine: {show: false}},
  {gridIndex: 1, type: 'value', min: 128000, max: 138000, interval: 1000, position: 'top',
   axisLine: {show: false}, axisTick: {show: true, length: 2, lineStyle: {color: '#000', width: 1}},
   axisLabel: {show: true, margin: 11, fontFamily: 'DejaVu Sans Mono', fontSize: 10, color: '#000',
     alignMinLabel: 'left', alignMaxLabel: 'right',
     formatter: v => v === 128000 ? rulerLabels[0] : (v === 138000 ? rulerLabels[1] : '')},
   splitLine: {show: false}}
];
const yAxis = [
  {gridIndex: 0, type: 'value', min: 0, max: 1640, inverse: true, show: false},
  {gridIndex: 1, type: 'value', min: 0, max: 1, show: false}
];
const series = [];
const base = {coordinateSystem: 'cartesian2d', xAxisIndex: 0, yAxisIndex: 0, encode: {x: 0, y: 1}, silent: true, clip: false};
series.push(Object.assign({type: 'custom', renderItem: renderSite, data: siteMarks.map((p, i) => [p, 0, i])}, base));
series.push(Object.assign({type: 'custom', renderItem: renderGene, data: geneStart.map((p, i) => [p, 0, i])}, base));
series.push(Object.assign({type: 'custom', renderItem: renderFeat, data: featStart.map((p, i) => [p, 0, i])}, base));
series.push(Object.assign({type: 'custom', renderItem: renderSeg, data: segStart.map((p, i) => [p, 0, i])}, base));
series.push(Object.assign({type: 'custom', renderItem: renderMark, data: markPos.map((p, i) => [p, 0, i])}, base));
series.push(Object.assign({type: 'custom', renderItem: renderBar, data: barStart.map((p, i) => [p, 0, i])}, base));

panels.forEach((p) => {
  const gi = grid.length;
  grid.push({left: LEFT, width: WIDTH, top: p.top, height: p.height, containLabel: false});
  const xi = xAxis.length, yi = yAxis.length;
  xAxis.push({gridIndex: gi, type: 'value', min: 128000, max: 138000, show: false});
  yAxis.push({gridIndex: gi, type: 'value', min: 0, max: p.max, show: false});
  p.lines.forEach((ln, j) => {
    const s = {
      type: 'line', xAxisIndex: xi, yAxisIndex: yi, silent: true, showSymbol: false, symbol: 'none',
      data: p.pos.map((x, n) => [x, ln.v[n]]),
      lineStyle: {color: ln.c, width: ln.w}, z: 3 + j * 0.01, animation: false
    };
    if (j === 0) {
      s.markLine = {silent: true, symbol: ['none', 'none'], label: {show: false}, animation: false,
        lineStyle: {color: p.thrColor, type: 'solid', width: 1}, data: p.thr.map(v => ({yAxis: v}))};
    }
    series.push(s);
  });
});

const chart = echarts.init(document.getElementById('c'), null, {renderer: 'canvas', width: 1024, height: 1640});
chart.setOption({animation: false, backgroundColor: '#ffffff', grid, xAxis, yAxis, series, tooltip: {show: false}});
</script></body></html>
